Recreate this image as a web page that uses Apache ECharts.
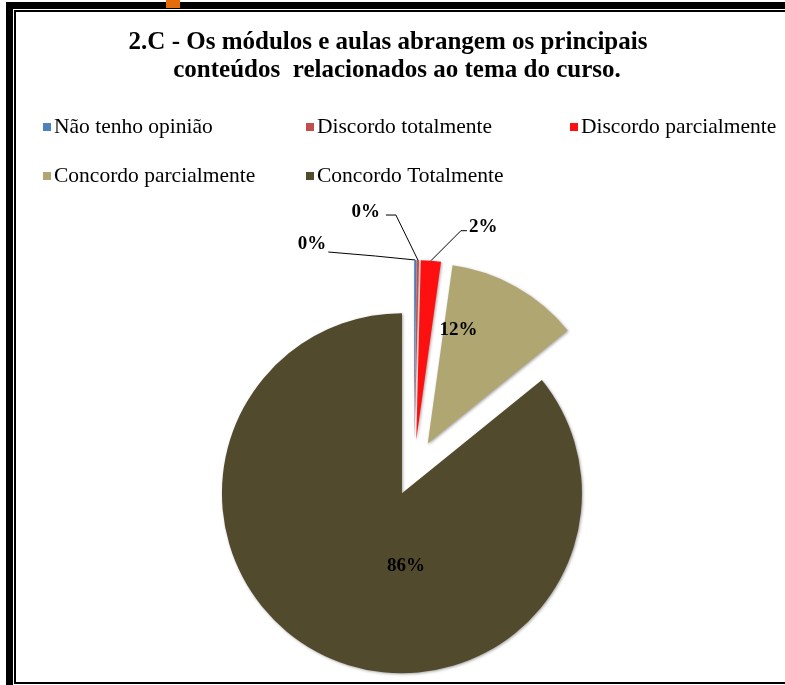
<!DOCTYPE html>
<html>
<head>
<meta charset="utf-8">
<script src="https://cdn.jsdelivr.net/npm/echarts@6/dist/echarts.min.js"></script>
<style>
html,body{margin:0;padding:0;background:#fff;}
#wrap{position:relative;width:785px;height:685px;overflow:hidden;background:#fff;}
#chart{position:absolute;left:0;top:0;width:785px;height:685px;}
.b{position:absolute;background:#000;}
</style>
</head>
<body>
<div id="wrap">
<div id="chart"></div>
<div class="b" style="left:6px;top:2px;width:800px;height:7px;"></div>
<div class="b" style="left:6px;top:2px;width:7px;height:700px;"></div>
<div class="b" style="left:14px;top:10px;width:800px;height:2px;"></div>
<div class="b" style="left:14px;top:10px;width:2px;height:674px;"></div>
<div class="b" style="left:14px;top:682px;width:800px;height:2px;"></div>
<div style="position:absolute;left:166px;top:0;width:14px;height:8px;background:#e46c0a;"></div>
</div>
<script>
var titleLines = ['2.C - Os módulos e aulas abrangem os principais', 'conteúdos  relacionados ao tema do curso.'];
var categories = ['Não tenho opinião', 'Discordo totalmente', 'Discordo parcialmente', 'Concordo parcialmente', 'Concordo Totalmente'];
var values = [0.2, 0.2, 1.8, 12, 86];
var colors = ['#4f81bd', '#c0504d', '#ff1010', '#b0a672', '#524a2d'];
var insideLabel = [false, false, false, true, true];

var serif = '"Liberation Serif", "Times New Roman", serif';
var chart = echarts.init(document.getElementById('chart'), null, {renderer: 'canvas'});

var titlePos = [[388, 29], [397, 57]];
var titles = titleLines.map(function (t, i) {
  return {
    text: t, left: titlePos[i][0], top: titlePos[i][1], textAlign: 'center', padding: 0,
    textStyle: {fontFamily: serif, fontWeight: 'bold', fontSize: 25, lineHeight: 28, color: '#000'}
  };
});

var legendPos = [[43, 116], [306, 116], [570, 116], [43, 165], [306, 165]];
var legends = categories.map(function (c, i) {
  return {
    data: [c], left: legendPos[i][0], top: legendPos[i][1], padding: 0,
    itemWidth: 8, itemHeight: 8, itemGap: 0, icon: 'rect', selectedMode: false,
    textStyle: {fontFamily: serif, fontSize: 21.5, color: '#000', padding: [0, 0, 0, -2]}
  };
});

var data = categories.map(function (c, i) {
  var item = {name: c, value: values[i], selected: true, itemStyle: {color: colors[i]}};
  if (insideLabel[i]) {
    item.label = {position: 'inside'};
    item.labelLine = {show: false};
  }
  return item;
});

// label placement tweaks (relative offsets from the slice anchor, styling only)
var outsideOffsets = {
  0: {side: 'right', tx: -89, ty: -16, line: [[-40, -4], [-87, -8]]},
  1: {side: 'right', tx: -38, ty: -48, line: [[-22, -45], [-32, -45]]},
  2: {side: 'left', tx: 38, ty: -34, line: [[30, -30], [36, -30]]}
};
function layoutLabel(params) {
  var i = params.dataIndex;
  if (i === 3) return {dx: -15, dy: -33};
  if (i === 4) return {dx: 44, dy: -11};
  var o = outsideOffsets[i];
  var p = params.labelLinePoints;
  if (!o || !p) return {};
  var a = p[0], r = params.labelRect;
  var curX = o.side === 'right' ? r.x + r.width : r.x;
  var curY = r.y + r.height / 2;
  return {
    dx: a[0] + o.tx - curX,
    dy: a[1] + o.ty - curY,
    labelLinePoints: [[a[0], a[1]], [a[0] + o.line[0][0], a[1] + o.line[0][1]], [a[0] + o.line[1][0], a[1] + o.line[1][1]]]
  };
}

chart.setOption({
  animation: false,
  backgroundColor: '#fff',
  title: titles,
  legend: legends,
  series: [{
    type: 'pie',
    center: [414, 468],
    radius: 180,
    startAngle: 90,
    clockwise: true,
    percentPrecision: 0,
    selectedMode: 'multiple',
    selectedOffset: 28,
    avoidLabelOverlap: false,
    itemStyle: {shadowBlur: 3, shadowColor: 'rgba(0,0,0,0.35)', shadowOffsetX: 1, shadowOffsetY: 1},
    emphasis: {disabled: true},
    label: {
      show: true, formatter: '{d}%', position: 'outside',
      fontFamily: serif, fontWeight: 'bold', fontSize: 19, color: '#000'
    },
    labelLine: {show: true, length: 20, length2: 15, lineStyle: {color: '#000', width: 1}},
    labelLayout: layoutLabel,
    data: data
  }]
});
</script>
</body>
</html>
